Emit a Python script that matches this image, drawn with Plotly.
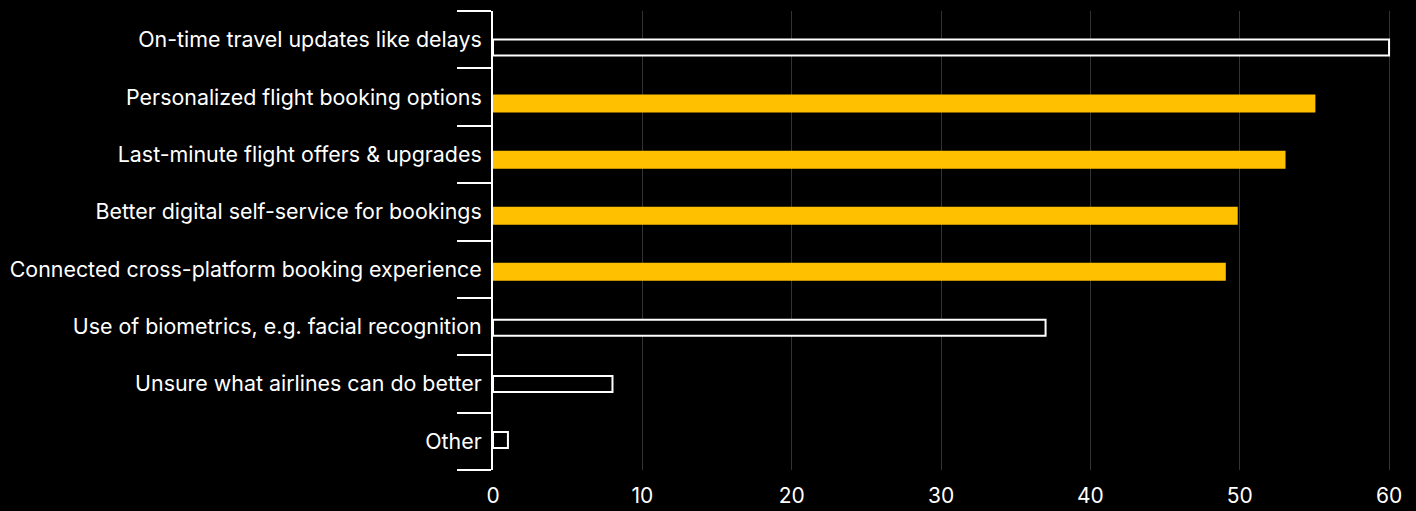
import plotly.graph_objects as go

# Survey answers: what airlines could do better (share of respondents)
categories = [
    "On-time travel updates like delays",
    "Personalized flight booking options",
    "Last-minute flight offers & upgrades",
    "Better digital self-service for bookings",
    "Connected cross-platform booking experience",
    "Use of biometrics, e.g. facial recognition",
    "Unsure what airlines can do better",
    "Other",
]
values = [60, 55, 53, 49.8, 49, 37, 8, 1]
x_ticks = [0, 10, 20, 30, 40, 50, 60]

# Answers drawn as solid yellow bars; the rest are outlined
highlighted = {
    "Personalized flight booking options",
    "Last-minute flight offers & upgrades",
    "Better digital self-service for bookings",
    "Connected cross-platform booking experience",
}

YELLOW = "#FFC000"
WHITE = "#FFFFFF"
BG = "#000000"
FONT = "Inter, Roboto, sans-serif"

fill_colors = [YELLOW if c in highlighted else BG for c in categories]
line_colors = [YELLOW if c in highlighted else WHITE for c in categories]

n = len(categories)

fig = go.Figure()
fig.add_trace(
    go.Bar(
        x=values,
        y=categories,
        orientation="h",
        width=0.285,
        marker=dict(color=fill_colors, line=dict(color=line_colors, width=2)),
        hoverinfo="x+y",
    )
)
# empty trace so the labelled category scale on y2 is rendered
fig.add_trace(
    go.Scatter(x=[], y=[], yaxis="y2", mode="markers", showlegend=False, hoverinfo="skip")
)

fig.update_layout(
    width=1416,
    height=511,
    paper_bgcolor=BG,
    plot_bgcolor=BG,
    margin=dict(l=493, r=12, t=11, b=41),
    showlegend=False,
    font=dict(family=FONT, color=WHITE, size=21),
    xaxis=dict(
        range=[0, 61],
        tickvals=x_ticks,
        showgrid=True,
        gridcolor="#333333",
        gridwidth=1,
        zeroline=False,
        showline=False,
        ticks="",
        ticklabelstandoff=11,
        automargin=False,
        tickfont=dict(size=21, color=WHITE, family=FONT),
    ),
    # category axis carrying the bars (hidden)
    yaxis=dict(
        type="category",
        categoryorder="array",
        categoryarray=categories,
        range=[n - 0.465, -0.651],
        showticklabels=False,
        showgrid=False,
        zeroline=False,
        showline=False,
        ticks="",
        automargin=False,
    ),
    # visible axis: labels between boundary ticks
    yaxis2=dict(
        overlaying="y",
        side="left",
        range=[n, 0],
        tickmode="array",
        tickvals=[i + 0.5 for i in range(n)],
        ticktext=categories,
        ticks="",
        ticklabelstandoff=5,
        showgrid=False,
        zeroline=False,
        showline=True,
        linecolor=WHITE,
        linewidth=2,
        automargin=False,
        tickfont=dict(size=21.4, color=WHITE, family=FONT),
        minor=dict(
            tickmode="array",
            tickvals=list(range(n + 1)),
            ticks="outside",
            ticklen=34,
            tickwidth=2,
            tickcolor=WHITE,
            showgrid=False,
        ),
    ),
)

fig.write_html("out.html")
